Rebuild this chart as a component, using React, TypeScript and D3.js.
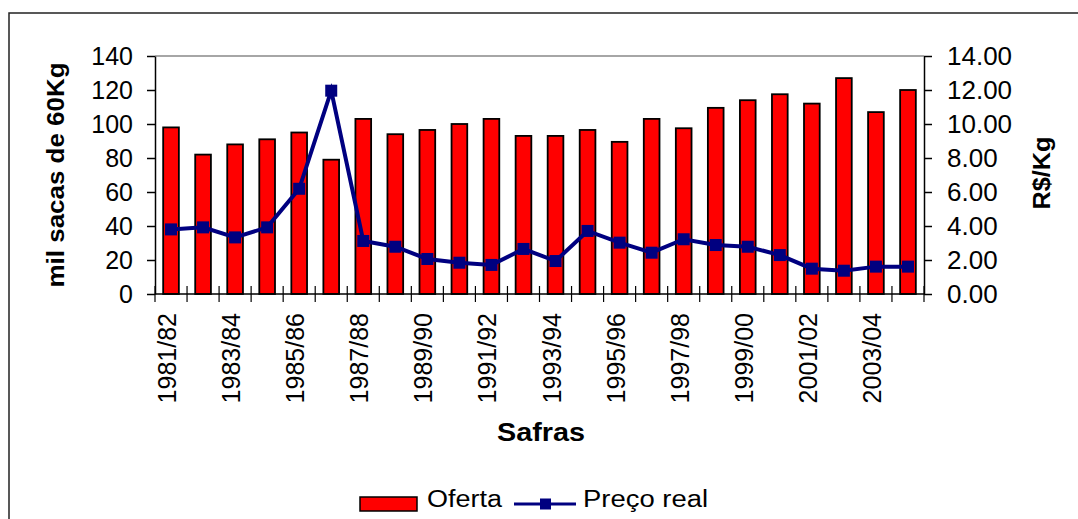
import * as d3 from "d3";
import { useEffect, useRef } from "react";

const safras = [
  "1981/82", "1982/83", "1983/84", "1984/85", "1985/86", "1986/87",
  "1987/88", "1988/89", "1989/90", "1990/91", "1991/92", "1992/93",
  "1993/94", "1994/95", "1995/96", "1996/97", "1997/98", "1998/99",
  "1999/00", "2000/01", "2001/02", "2002/03", "2003/04", "2004/05",
];
const oferta = [
  98, 82, 88, 91, 95, 79, 103, 94, 96.5, 100, 103, 93,
  93, 96.5, 89.5, 103, 97.5, 109.5, 114, 117.5, 112, 127, 107, 120,
];
const precoReal = [
  3.8, 3.92, 3.33, 3.92, 6.19, 11.96, 3.12, 2.78, 2.06, 1.84, 1.71, 2.65,
  1.94, 3.71, 3.02, 2.43, 3.22, 2.88, 2.78, 2.29, 1.49, 1.37, 1.61, 1.61,
];
const leftTicks = [0, 20, 40, 60, 80, 100, 120, 140];
const rightTicks = [0, 2, 4, 6, 8, 10, 12, 14];

const FONT = "'Liberation Sans', Arial, sans-serif";

export default function App() {
  const svgRef = useRef<SVGSVGElement>(null);
  const W = 1078;
  const H = 519;
  const margin = { top: 56, right: 154, bottom: 225, left: 155 };

  useEffect(() => {
    const svg = d3.select(svgRef.current);
    svg.selectAll("*").remove();
    const innerW = W - margin.left - margin.right;
    const innerH = H - margin.top - margin.bottom;

    // outer frame
    svg.append("rect")
      .attr("x", 9).attr("y", 13).attr("width", W).attr("height", H)
      .attr("fill", "white").attr("stroke", "#222").attr("stroke-width", 1.5);

    const g = svg.append("g").attr("transform", `translate(${margin.left},${margin.top})`);

    const x = d3.scaleBand().domain(safras).range([0, innerW]).padding(0);
    const y = d3.scaleLinear().domain([0, 140]).range([innerH, 0]);
    const y2 = d3.scaleLinear().domain([0, 14]).range([innerH, 0]);

    // top border of plot area
    g.append("line")
      .attr("x1", 0).attr("x2", innerW).attr("y1", 0).attr("y2", 0)
      .attr("stroke", "#888").attr("stroke-width", 1.5);

    const bw = x.bandwidth() * 0.49;
    g.selectAll("rect.bar")
      .data(safras)
      .enter()
      .append("rect")
      .attr("class", "bar")
      .attr("x", (d) => x(d)! + (x.bandwidth() - bw) / 2)
      .attr("y", (_, i) => y(oferta[i]))
      .attr("width", bw)
      .attr("height", (_, i) => innerH - y(oferta[i]))
      .attr("fill", "#ff0000")
      .attr("stroke", "#000")
      .attr("stroke-width", 1.8);

    const cx = (d: string) => x(d)! + x.bandwidth() / 2;
    const line = d3.line<string>()
      .x((d) => cx(d))
      .y((_, i) => y2(precoReal[i]));
    g.append("path")
      .attr("d", line(safras))
      .attr("fill", "none")
      .attr("stroke", "#000080")
      .attr("stroke-width", 4);

    const ms = 12;
    g.selectAll("rect.mk")
      .data(safras)
      .enter()
      .append("rect")
      .attr("class", "mk")
      .attr("x", (d) => cx(d) - ms / 2)
      .attr("y", (_, i) => y2(precoReal[i]) - ms / 2)
      .attr("width", ms)
      .attr("height", ms)
      .attr("fill", "#000080");

    // left axis
    const gl = g.append("g").call(d3.axisLeft(y).tickValues(leftTicks).tickSize(8).tickPadding(14).tickSizeOuter(0));
    gl.selectAll("text").attr("font-size", 25).attr("font-family", FONT).attr("fill", "#000");
    gl.selectAll("line, path").attr("stroke", "#000").attr("stroke-width", 1.5);

    // right axis
    const gr = g.append("g").attr("transform", `translate(${innerW},0)`)
      .call(d3.axisRight(y2).tickValues(rightTicks).tickFormat(d3.format(".2f")).tickSize(8).tickPadding(15).tickSizeOuter(0));
    gr.selectAll("text").attr("font-size", 26).attr("font-family", FONT).attr("fill", "#000");
    gr.selectAll("line, path").attr("stroke", "#000").attr("stroke-width", 1.5);

    // bottom axis: crossing ticks at band edges
    g.append("line")
      .attr("x1", 0).attr("x2", innerW).attr("y1", innerH).attr("y2", innerH)
      .attr("stroke", "#000").attr("stroke-width", 1.5);
    const edges = safras.map((d) => x(d)!).concat([innerW]);
    g.selectAll("line.xt")
      .data(edges)
      .enter()
      .append("line")
      .attr("class", "xt")
      .attr("x1", (d) => d).attr("x2", (d) => d)
      .attr("y1", innerH - 8).attr("y2", innerH + 8)
      .attr("stroke", "#000").attr("stroke-width", 1.2);

    g.selectAll("text.xl")
      .data(safras.filter((_, i) => i % 2 === 0))
      .enter()
      .append("text")
      .attr("class", "xl")
      .attr("transform", (d) => `translate(${cx(d)},${innerH + 19}) rotate(-90)`)
      .attr("dy", "0.2em")
      .attr("text-anchor", "end")
      .attr("font-size", 25)
      .attr("font-family", FONT)
      .text((d) => d);

    // titles
    svg.append("text")
      .attr("transform", "translate(64,175) rotate(-90)")
      .attr("text-anchor", "middle")
      .attr("font-size", 23).attr("font-weight", "bold").attr("font-family", FONT)
      .attr("textLength", 225).attr("lengthAdjust", "spacingAndGlyphs")
      .text("mil sacas de 60Kg");
    svg.append("text")
      .attr("transform", "translate(1050,173) rotate(-90)")
      .attr("text-anchor", "middle")
      .attr("font-size", 23).attr("font-weight", "bold").attr("font-family", FONT)
      .attr("textLength", 73).attr("lengthAdjust", "spacingAndGlyphs")
      .text("R$/Kg");
    svg.append("text")
      .attr("x", 541).attr("y", 441)
      .attr("text-anchor", "middle")
      .attr("font-size", 25).attr("font-weight", "bold").attr("font-family", FONT)
      .attr("textLength", 88).attr("lengthAdjust", "spacingAndGlyphs")
      .text("Safras");

    // legend
    const lg = svg.append("g");
    lg.append("rect").attr("x", 360).attr("y", 497).attr("width", 57).attr("height", 14)
      .attr("fill", "#ff0000").attr("stroke", "#000").attr("stroke-width", 1.5);
    lg.append("text").attr("x", 427).attr("y", 507)
      .attr("font-size", 23).attr("font-family", FONT)
      .attr("textLength", 75).attr("lengthAdjust", "spacingAndGlyphs")
      .text("Oferta");
    lg.append("line").attr("x1", 514).attr("x2", 576).attr("y1", 504).attr("y2", 504)
      .attr("stroke", "#000080").attr("stroke-width", 3);
    lg.append("rect").attr("x", 540).attr("y", 498.5).attr("width", 11).attr("height", 11)
      .attr("fill", "#000080");
    lg.append("text").attr("x", 583).attr("y", 507)
      .attr("font-size", 23).attr("font-family", FONT)
      .attr("textLength", 125).attr("lengthAdjust", "spacingAndGlyphs")
      .text("Preço real");
  }, []);

  return (
    <svg
      ref={svgRef}
      width={W}
      height={H}
      style={{ position: "absolute", left: 0, top: 0, background: "white", display: "block" }}
    />
  );
}
